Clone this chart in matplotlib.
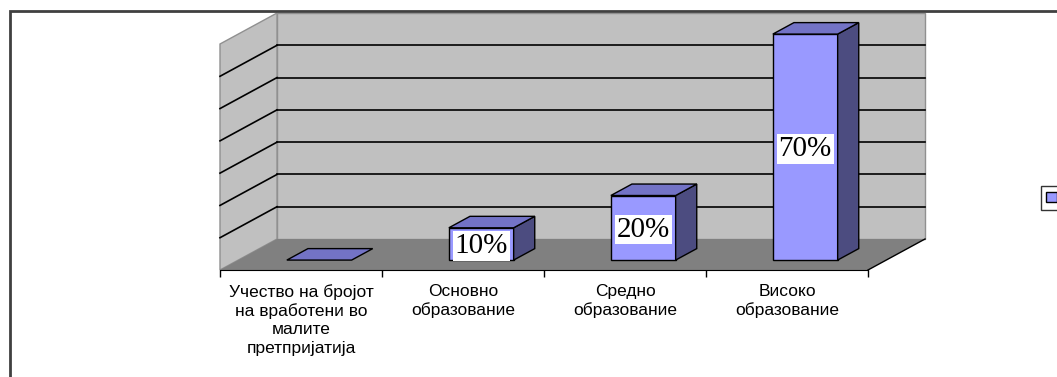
import numpy as np
import matplotlib.pyplot as plt
from matplotlib.patches import Polygon, Rectangle, Patch

# education level categories and share of employees (%)
categories = ['Учество на бројот\nна вработени во\nмалите\nпретпријатија',
              'Основно\nобразование',
              'Средно\nобразование',
              'Високо\nобразование']
values = [0, 10, 20, 70]
grid_levels = [0, 10, 20, 30, 40, 50, 60, 70]

# oblique 3d projection: depth d in [0, 1] shifts right (categories) and up (%)
DX, DY = 0.352, 9.6
D0, D1 = 0.32, 0.69      # bar depth span
BAR_W = 0.4


def proj(x, y, d):
    return (x + d * DX, y + d * DY)


fig = plt.figure(figsize=(10.57, 3.77), dpi=100)
W, H = 1057, 377
ax = fig.add_axes([220 / W, (H - 270) / H, 648 / W, 226 / H])
ax.set_xlim(0, len(categories))
ax.set_ylim(0, max(grid_levels))
n = len(categories)
top = max(grid_levels)

wall = '#C0C0C0'
floor = '#808080'


def poly(pts, fc, ec='none', lw=0.8, z=1):
    ax.add_patch(Polygon(pts, closed=True, facecolor=fc, edgecolor=ec,
                         linewidth=lw, zorder=z, clip_on=False))


# walls and floor
poly([proj(0, 0, 1), proj(n, 0, 1), proj(n, top, 1), proj(0, top, 1)],
     wall, '#909090', 1.0, 1)
poly([proj(0, 0, 0), proj(0, 0, 1), proj(0, top, 1), proj(0, top, 0)],
     wall, '#909090', 1.0, 1)
poly([proj(0, 0, 0), proj(n, 0, 0), proj(n, 0, 1), proj(0, 0, 1)],
     floor, 'none', 0, 2)

# gridlines on back and side wall
for v in grid_levels[1:-1]:
    bx, by = zip(proj(0, v, 1), proj(n, v, 1))
    ax.plot(bx, by, color='black', lw=1.2, zorder=3, clip_on=False)
    sx, sy = zip(proj(0, v, 0), proj(0, v, 1))
    ax.plot(sx, sy, color='black', lw=1.2, zorder=3, clip_on=False)

# floor front-right edge
ex, ey = zip(proj(n, 0, 0), proj(n, 0, 1))
ax.plot(ex, ey, color='black', lw=1.0, zorder=3, clip_on=False)

# bars
front_c, side_c, top_c = '#9999FF', '#4C4C80', '#7373C6'
for i, v in enumerate(values):
    xc = i + 0.5
    x0, x1 = xc - BAR_W / 2, xc + BAR_W / 2
    if v > 0:
        poly([proj(x0, 0, D0), proj(x1, 0, D0), proj(x1, v, D0), proj(x0, v, D0)],
             front_c, 'black', 1.0, 5)
        poly([proj(x1, 0, D0), proj(x1, 0, D1), proj(x1, v, D1), proj(x1, v, D0)],
             side_c, 'black', 1.0, 5)
    poly([proj(x0, v, D0), proj(x1, v, D0), proj(x1, v, D1), proj(x0, v, D1)],
         top_c, 'black', 1.0, 5)
    if v > 0:
        lx, ly = proj(xc, v / 2, D0)
        ax.text(lx, ly - 0.6, f'{v}%', ha='center', va='center', fontsize=21,
                family='Liberation Serif', zorder=6,
                bbox=dict(facecolor='white', edgecolor='none', pad=1.2))

# axes: only the front floor edge with category ticks
for s in ['left', 'right', 'top']:
    ax.spines[s].set_visible(False)
ax.spines['bottom'].set_color('black')
ax.spines['bottom'].set_zorder(4)
ax.set_yticks([])
ax.set_xticks(np.arange(n + 1))
ax.set_xticklabels([])
ax.tick_params(axis='x', which='major', direction='out', length=5, width=1, color='black')
ax.set_xticks(np.arange(n) + 0.5, minor=True)
ax.set_xticklabels(categories, minor=True, fontsize=12.5, family='Liberation Sans',
                   linespacing=1.27)
ax.tick_params(axis='x', which='minor', length=0, pad=10)
ax.patch.set_visible(False)

# chart area border
fig.add_artist(Rectangle((10 / W, -0.2), 1.2, 1.2 - 11 / H,
                         transform=fig.transFigure, fill=False,
                         edgecolor='#404040', linewidth=2))

# legend key (right side)
fig.legend(handles=[Patch(facecolor=front_c, edgecolor='black')], labels=[''],
           loc='center left', bbox_to_anchor=(1034 / W, 1 - 198 / H),
           frameon=True, fancybox=False, edgecolor='black',
           handlelength=0.8, handleheight=0.8, borderpad=0.35, handletextpad=0.4)

fig.savefig('out.png', dpi=100)
